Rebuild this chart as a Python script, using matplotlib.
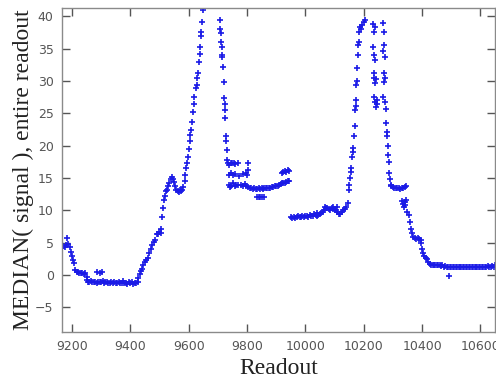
import matplotlib
matplotlib.use("Agg")
import matplotlib.pyplot as plt

# --- data (readout, median signal) ---
seg_a_x = [9166, 9170, 9175, 9180, 9184, 9188, 9192, 9196, 9200, 9204, 9208, 9212, 9216, 9220, 9225, 9230, 9235, 9240, 9245, 9250]
seg_a_y = [4.2, 4.5, 4.4, 4.6, 5.8, 4.8, 4.3, 3.6, 3.0, 2.4, 1.8, 0.8, 0.5, 0.5, 0.4, 0.3, 0.4, 0.2, 0.3, -0.3]

seg_b_x = [9250, 9255, 9260, 9265, 9270, 9275, 9280, 9285, 9290, 9295, 9300, 9305, 9310, 9315, 9320, 9325,
           9330, 9335, 9340, 9345, 9350, 9355, 9360, 9365, 9370, 9375, 9380, 9385, 9390, 9395, 9400, 9405,
           9410, 9415, 9420, 9425, 9287, 9295, 9303]
seg_b_y = [-0.8, -1.0, -1.1, -0.9, -1.0, -1.1, -1.0, -1.2, -1.0, -1.1, -1.0, -0.9, -1.2, -1.1, -1.0, -1.2,
           -1.3, -1.1, -1.2, -1.0, -1.3, -1.2, -1.1, -1.3, -1.2, -0.9, -1.3, -1.2, -1.4, -1.1, -1.3, -1.0,
           -1.4, -1.2, -1.3, -1.1, 0.5, 0.4, 0.5]

seg_c_x = [9428, 9432, 9436, 9440, 9445, 9450, 9455, 9460, 9465, 9470, 9475, 9480, 9485, 9490, 9495, 9500,
           9504, 9507, 9510, 9513, 9516, 9519, 9522, 9526, 9530, 9534, 9538, 9542, 9546, 9550, 9554, 9558,
           9562, 9566, 9570, 9574, 9578, 9582, 9586, 9589]
seg_c_y = [-0.5, 0.2, 0.6, 1.0, 1.5, 2.0, 2.4, 2.6, 3.4, 4.0, 4.6, 5.1, 5.5, 6.3, 6.4, 6.6,
           6.5, 7.2, 9.0, 10.3, 11.6, 12.2, 13.0, 13.2, 13.8, 14.3, 14.8, 15.2, 14.9, 14.4, 13.8, 13.2,
           13.0, 12.9, 13.1, 13.0, 13.2, 13.6, 14.5, 15.5]

seg_d_x = [9592, 9595, 9598, 9600, 9603, 9606, 9609, 9612, 9615, 9618, 9620, 9624, 9627, 9630, 9633, 9636,
           9638, 9640, 9642, 9644, 9646, 9648]
seg_d_y = [16.5, 17.3, 18.3, 19.5, 20.8, 21.7, 22.5, 23.7, 25.2, 26.5, 27.6, 29.0, 29.4, 30.5, 31.3, 33.0,
           34.2, 35.3, 37.0, 37.6, 39.2, 41.0]

seg_e_x = [9706, 9708, 9710, 9711, 9713, 9714, 9716, 9718, 9720, 9722, 9723, 9725, 9726, 9728, 9729, 9731, 9733, 9735]
seg_e_y = [39.5, 38.0, 37.5, 36.0, 35.2, 34.0, 33.8, 32.2, 29.9, 27.4, 26.5, 25.6, 24.3, 21.5, 20.8, 19.4, 17.8, 17.3]

seg_f_x = [9740, 9745, 9750, 9755, 9760, 9770, 9805,
           9738, 9745, 9752, 9760, 9772, 9785, 9795, 9805, 9800,
           9738, 9742, 9746, 9752, 9758, 9764, 9770, 9780, 9786, 9792, 9798, 9804,
           9810, 9815, 9820, 9825, 9830, 9835, 9840, 9845, 9850, 9855, 9860, 9865, 9870, 9875,
           9880, 9885, 9890, 9895, 9900, 9905, 9910, 9915, 9920, 9925, 9930, 9935, 9940, 9945,
           9834, 9840, 9846, 9852, 9858,
           9920, 9925, 9930, 9935, 9940, 9945]
seg_f_y = [17.0, 17.4, 17.3, 17.4, 17.2, 17.3, 17.3,
           15.5, 15.8, 15.4, 15.6, 15.3, 15.6, 15.8, 16.2, 15.5,
           14.0, 13.6, 13.8, 14.2, 13.8, 14.0, 13.9, 14.0, 13.7, 14.1, 13.8, 13.6,
           13.5, 13.4, 13.3, 13.4, 13.3, 13.3, 13.4, 13.3, 13.4, 13.3, 13.4, 13.4, 13.5, 13.4,
           13.5, 13.6, 13.6, 13.7, 13.8, 13.8, 14.0, 14.1, 14.2, 14.3, 14.3, 14.4, 14.5, 14.5,
           12.1, 12.1, 12.0, 12.1, 12.1,
           15.8, 16.0, 16.1, 16.0, 16.2, 16.1]

seg_g_x = [9950, 9955, 9960, 9965, 9970, 9975, 9980, 9985, 9990, 9995, 10000, 10005, 10010, 10015, 10020,
           10025, 10030, 10035, 10040, 10045, 10050, 10055, 10060, 10065, 10070, 10075, 10080, 10085, 10090,
           10095, 10100, 10105, 10110, 10115, 10120, 10125, 10130, 10135, 10140, 10145,
           10068, 10095, 10108, 10040]
seg_g_y = [9.0, 8.9, 9.0, 8.9, 9.0, 9.1, 9.0, 9.0, 9.1, 9.0, 9.2, 9.1, 9.0, 9.3, 9.1,
           9.2, 9.4, 9.3, 9.2, 9.3, 9.5, 9.6, 9.8, 10.0, 10.3, 10.4, 10.2, 10.0, 10.4,
           10.2, 10.1, 10.0, 9.8, 9.5, 9.4, 9.8, 10.0, 10.2, 10.6, 11.2,
           10.6, 10.6, 10.5, 9.6]

seg_h_x = [10148, 10150, 10152, 10155, 10158, 10161, 10163, 10165, 10167, 10169, 10171, 10172, 10174,
           10175, 10176, 10177, 10179, 10181, 10183, 10185, 10187, 10190, 10195, 10200, 10203]
seg_h_y = [13.2, 14.0, 15.0, 15.9, 16.5, 18.3, 19.0, 19.6, 21.5, 23.0, 25.5, 26.2, 27.0,
           29.4, 30.0, 32.0, 34.0, 35.6, 36.0, 37.6, 38.4, 38.0, 38.7, 39.2, 39.5]

seg_i_x = [10232, 10235, 10238, 10233, 10236, 10238, 10234, 10237, 10240, 10242, 10236, 10240, 10243, 10245, 10247,
           10266, 10268, 10270, 10267, 10272, 10268, 10273, 10270, 10267, 10272, 10275, 10278, 10279, 10280,
           10282, 10284, 10286, 10288, 10290, 10293]
seg_i_y = [38.8, 37.6, 38.3, 35.3, 34.0, 33.3, 31.3, 30.5, 29.7, 30.3, 27.6, 26.7, 26.0, 27.0, 26.5,
           39.0, 37.6, 35.6, 34.6, 33.8, 31.2, 30.4, 29.9, 27.6, 26.8, 25.7, 23.5, 22.2, 21.5,
           19.9, 18.5, 17.5, 15.8, 14.8, 14.0]

seg_j_x = [10295, 10300, 10305, 10310, 10315, 10320, 10325, 10330, 10335, 10340, 10345,
           10330, 10335, 10338, 10342, 10345, 10340,
           10350, 10355, 10360, 10363, 10366, 10370, 10375, 10380, 10385, 10390, 10395, 10398, 10400,
           10403, 10407, 10412, 10417, 10422, 10427, 10432, 10437,
           10440, 10445, 10450, 10455, 10460, 10465, 10470, 10475, 10480, 10485, 10490, 10495, 10500,
           10505, 10510, 10515, 10520, 10525, 10530, 10535, 10540, 10545, 10550, 10555, 10560, 10565,
           10570, 10575, 10580, 10585, 10590, 10595, 10600, 10605, 10610, 10615, 10620, 10625, 10630,
           10635, 10640, 10645, 10650, 10494]
seg_j_y = [13.8, 13.6, 13.5, 13.5, 13.4, 13.5, 13.3, 13.4, 13.5, 13.6, 13.7,
           11.5, 11.0, 10.6, 11.3, 11.6, 10.8,
           9.8, 9.3, 8.2, 7.2, 6.5, 5.9, 5.7, 5.6, 5.7, 5.6, 5.5, 5.0, 4.0,
           3.4, 2.9, 2.7, 2.5, 2.0, 1.7, 1.6, 1.6,
           1.6, 1.5, 1.6, 1.5, 1.5, 1.4, 1.5, 1.3, 1.4, 1.3, 1.3, 1.2, 1.3,
           1.2, 1.3, 1.2, 1.2, 1.3, 1.2, 1.3, 1.2, 1.3, 1.2, 1.3, 1.2, 1.3,
           1.3, 1.2, 1.3, 1.2, 1.3, 1.2, 1.2, 1.3, 1.2, 1.3, 1.2, 1.4, 1.3,
           1.2, 1.4, 1.3, 1.5, -0.2]

x_ticks = [9200, 9400, 9600, 9800, 10000, 10200, 10400, 10600]
y_ticks = [-5, 0, 5, 10, 15, 20, 25, 30, 35, 40]
x_label = "Readout"
y_label = "MEDIAN( signal ), entire readout"

xs = seg_a_x + seg_b_x + seg_c_x + seg_d_x + seg_e_x + seg_f_x + seg_g_x + seg_h_x + seg_i_x + seg_j_x
ys = seg_a_y + seg_b_y + seg_c_y + seg_d_y + seg_e_y + seg_f_y + seg_g_y + seg_h_y + seg_i_y + seg_j_y

fig = plt.figure(figsize=(4.96, 3.83), dpi=100)
ax = fig.add_axes([62 / 496, 1 - 332 / 383, (495 - 62) / 496, (332 - 8) / 383])

ax.plot(xs, ys, linestyle="none", marker="+", markersize=4.2, markeredgewidth=1.2,
        color="#1a1ae6")

ax.set_xlim(9166, 10650)
ax.set_ylim(-8.8, 41.3)
ax.set_xticks(x_ticks)
ax.set_yticks(y_ticks)

spine_col = "#8a8a8a"
for s in ax.spines.values():
    s.set_color(spine_col)
    s.set_linewidth(1.0)
ax.tick_params(direction="in", length=6, width=1, color="#555555",
               top=True, right=True, labelsize=9, labelcolor="#555555", pad=6)

ax.set_xlabel(x_label, family="Liberation Serif", fontsize=17, color="#222222", labelpad=3)
ax.set_ylabel(y_label, family="Liberation Serif", fontsize=17, color="#222222", labelpad=1)

fig.savefig("out.png", dpi=100)
